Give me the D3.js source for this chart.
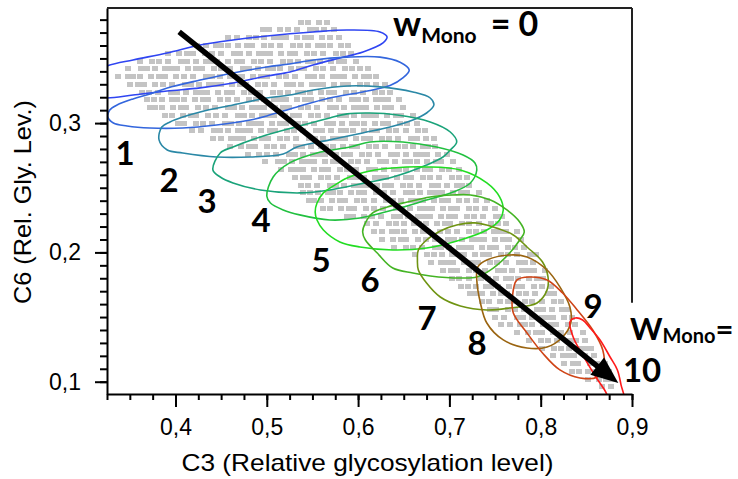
<!DOCTYPE html>
<html>
<head>
<meta charset="utf-8">
<script src="https://cdn.jsdelivr.net/npm/d3@7"></script>
<style>
  body { margin: 0; background: #fff; }
  text { font-family: "Liberation Sans", Arial, sans-serif; }
  .num { font-family: Lato, "Open Sans", sans-serif; font-weight: 700; }
</style>
</head>
<body>
<svg id="chart" width="738" height="479"></svg>
<script>
// axis setup
const xDomain = [0.325, 0.9];
const yDomain = [0.0905, 0.389];
const xMajor = [0.4, 0.5, 0.6, 0.7, 0.8, 0.9];
const yMajor = [0.1, 0.2, 0.3];

// gray cloud: one row per C6 value, C3 values (x1000) read along the row
const cloudY = [0.378, 0.372, 0.366, 0.360, 0.354, 0.348, 0.342, 0.336, 0.330, 0.324, 0.318, 0.312,
  0.306, 0.300, 0.294, 0.288, 0.282, 0.276, 0.270, 0.264, 0.258, 0.252, 0.246, 0.240, 0.234, 0.228,
  0.222, 0.216, 0.210, 0.204, 0.198, 0.192, 0.186, 0.180, 0.174, 0.168, 0.162, 0.156, 0.150, 0.144,
  0.138, 0.132, 0.126, 0.120, 0.114, 0.108, 0.102, 0.096];
const cloudX = [
  "538 545 557 566",
  "496 502 515 523 533 547 554 563 574",
  "457 467 481 488 497 508 514 521 533 542 548 561 569 579",
  "424 433 444 450 457 469 478 484 497 505 515 529 536 545 556 562 569 581 589",
  "392 404 413 419 432 440 450 464 471 480 491 497 504 516 525 531 544 552 562 576 583 592",
  "361 374 382 392 406 413 422 433 439 446 458 467 473 486 494 504 518 525 534 545 551 558 570 579 585 598",
  "348 362 369 378 389 395 402 414 423 429 442 450 460 474 481 490 501 507 514 526 535 541 554 562 572 586 593 602 611",
  "337 348 354 361 373 382 388 401 409 419 433 440 449 460 466 473 485 494 500 513 521 531 545 552 561 572 578 585 597 606 612 620",
  "350 359 365 378 386 396 410 417 426 437 443 450 462 471 477 490 498 508 522 529 538 549 555 562 574 583 589 602 610 620 629",
  "363 371 381 395 402 411 422 428 435 447 456 462 475 483 493 507 514 523 534 540 547 559 568 574 587 595 605 619 626 635",
  "369 376 385 396 402 409 421 430 436 449 457 467 481 488 497 508 514 521 533 542 548 561 569 579 593 600 609 620 626 633 645",
  "372 378 385 397 406 412 425 433 443 457 464 473 484 490 497 509 518 524 537 545 555 569 576 585 596 602 609 621 630 636 649",
  "389 396 408 417 423 436 444 454 468 475 484 495 501 508 520 529 535 548 556 566 580 587 596 607 613 620 632 641 647 660",
  "403 409 422 430 440 454 461 470 481 487 494 506 515 521 534 542 552 566 573 582 593 599 606 618 627 633 646 654 664",
  "418 428 442 449 458 469 475 482 494 503 509 522 530 540 554 561 570 581 587 594 606 615 621 634 642 652 666 673",
  "441 450 461 467 474 486 495 501 514 522 532 546 553 562 573 579 586 598 607 613 626 634 644 658 665 674 683",
  "460 472 481 487 500 508 518 532 539 548 559 565 572 584 593 599 612 620 630 644 651 660 671 677 684",
  "479 492 500 510 524 531 540 551 557 564 576 585 591 604 612 622 636 643 652 663 669 676 688 697",
  "498 512 519 528 539 545 552 564 573 579 592 600 610 624 631 640 651 657 664 676 685 691 704",
  "516 527 533 540 552 561 567 580 588 598 612 619 628 639 645 652 664 673 679 692 700 710",
  "531 540 546 559 567 577 591 598 607 618 624 631 643 652 658 671 679 689 703 710 719",
  "537 545 555 569 576 585 596 602 609 621 630 636 649 657 667 681 688 697 708 714 721",
  "540 547 556 567 573 580 592 601 607 620 628 638 652 659 668 679 685 692 704 713 719 732",
  "546 552 559 571 580 586 599 607 617 631 638 647 658 664 671 683 692 698 711 719 729 741",
  "562 569 581 590 596 609 617 627 641 648 657 668 674 681 693 702 708 721 729 739 750",
  "588 594 607 615 625 639 646 655 666 672 679 691 700 706 719 727 737 751 758",
  "610 620 634 641 650 661 667 674 686 695 701 714 722 732 746 753 762",
  "617 626 637 643 650 662 671 677 690 698 708 722 729 738 749 755 762 774",
  "626 638 647 653 666 674 684 698 705 714 725 731 738 750 759 765 778",
  "639 652 660 670 684 691 700 711 717 724 736 745 751 764 772 782",
  "662 676 683 692 703 709 716 728 737 743 756 764 774 788 795",
  "680 691 697 704 716 725 731 744 752 762 776 783 792",
  "693 702 708 721 729 739 753 760 769 780 786 793 805",
  "703 711 721 735 742 751 762 768 775 787 796 802",
  "713 720 729 740 746 753 765 774 780 793 801 811",
  "723 729 736 748 757 763 776 784 794 808 815",
  "736 743 755 764 770 783 791 801 815 822",
  "745 751 764 772 782 796 803 812 823 829",
  "750 760 774 781 790 801 807 814 826 834",
  "757 766 777 783 790 802 811 817 830 838",
  "774 786 795 801 814 822 832 846",
  "787 800 808 818 832 839 848",
  "801 815 822 831 842 848 855",
  "813 824 830 837 849 858",
  "826 835 841 854 862 870",
  "834 842 852 859 868 875",
  "852 864 871 878",
  "867 877"
];

// density contours, wMono = 0 .. 10
const contourColors = ["#2f45f2", "#3366dd", "#2a88a6", "#1aa37a", "#22c040", "#22dd22",
  "#44b424", "#6f9412", "#9a6410", "#cf4416", "#ff1a1a"];
const contours = [
  [[.2845,.3318],[.325,.3442],[.3535,.3488],[.3907,.3542],[.4269,.3604],[.463,.3643],[.5002,.3674],[.5506,.3705],[.5879,.372],[.624,.3705],[.6317,.3666],[.6273,.362],[.6054,.355],[.5802,.3504],[.5506,.3449],[.5254,.3395],[.5002,.3364],[.463,.331],[.4269,.3272],[.3907,.3248],[.3535,.3217],[.325,.3194],[.2954,.321]],
  [[.326,.3047],[.328,.3101],[.336,.314],[.3535,.3187],[.372,.3225],[.391,.3272],[.427,.3333],[.463,.3388],[.500,.3434],[.525,.3457],[.551,.3488],[.588,.351],[.624,.351],[.646,.347],[.656,.341],[.649,.3349],[.635,.329],[.605,.3241],[.569,.3194],[.533,.3125],[.500,.3055],[.482,.3024],[.445,.2985],[.408,.2962],[.372,.2962],[.347,.2978],[.332,.3001]],
  [[.382,.287],[.385,.297],[.394,.3009],[.408,.3047],[.427,.3086],[.463,.314],[.500,.3194],[.525,.3217],[.551,.3256],[.588,.3287],[.624,.328],[.660,.3241],[.679,.3194],[.683,.314],[.675,.3078],[.660,.3024],[.635,.297],[.605,.2924],[.569,.287],[.533,.2815],[.518,.2761],[.482,.2738],[.445,.2738],[.408,.2769],[.391,.2792]],
  [[.441,.2637],[.449,.2769],[.463,.2815],[.493,.2893],[.536,.2978],[.569,.304],[.588,.3071],[.613,.3078],[.643,.3063],[.679,.3009],[.701,.2931],[.708,.2854],[.701,.2792],[.693,.2738],[.675,.2676],[.638,.2583],[.602,.2529],[.569,.2483],[.536,.246],[.493,.2483],[.463,.2537],[.449,.2583]],
  [[.500,.2436],[.507,.2583],[.525,.2692],[.555,.2769],[.591,.2815],[.613,.2854],[.649,.2854],[.686,.2815],[.715,.2753],[.728,.2692],[.730,.2637],[.723,.2537],[.704,.2467],[.675,.2405],[.638,.2328],[.602,.2266],[.569,.2251],[.536,.229],[.518,.2328],[.504,.2382]],
  [[.553,.2313],[.555,.2382],[.562,.246],[.573,.2514],[.588,.2576],[.613,.263],[.638,.2653],[.675,.2661],[.712,.2637],[.741,.2537],[.755,.2429],[.759,.2328],[.755,.2251],[.741,.2173],[.712,.2096],[.675,.2034],[.638,.2019],[.602,.2042],[.580,.2081],[.562,.2173],[.555,.2251]],
  [[.605,.2158],[.608,.2228],[.616,.2305],[.632,.2351],[.654,.239],[.679,.2429],[.704,.2444],[.723,.2444],[.745,.2405],[.763,.2328],[.777,.2235],[.782,.2158],[.777,.2096],[.766,.1995],[.748,.1879],[.730,.181],[.712,.1802],[.679,.1818],[.660,.1841],[.638,.1879],[.621,.1995],[.608,.2096]],
  [[.665,.1941],[.666,.2019],[.675,.2096],[.690,.2166],[.708,.2212],[.728,.2228],[.748,.2197],[.770,.2135],[.785,.2042],[.802,.1926],[.808,.181],[.807,.171],[.796,.1609],[.766,.157],[.741,.1555],[.712,.1586],[.690,.1655],[.675,.1763],[.666,.1864]],
  [[.730,.1787],[.731,.1887],[.741,.1941],[.766,.198],[.785,.1965],[.807,.1864],[.821,.1733],[.832,.1578],[.833,.1454],[.824,.1346],[.807,.1268],[.785,.1261],[.759,.1323],[.741,.1454],[.734,.1609]],
  [[.769,.1655],[.774,.1787],[.788,.181],[.807,.1787],[.824,.1686],[.840,.1555],[.857,.14],[.868,.1245],[.869,.1114],[.862,.1036],[.843,.1029],[.821,.1091],[.802,.1222],[.785,.1377],[.770,.1531]],
  [[.832,.1462],[.838,.1493],[.846,.1477],[.854,.1416],[.865,.1323],[.876,.1191],[.884,.1091],[.888,.0975],[.891,.086],[.878,.0843],[.870,.0936],[.859,.1052],[.846,.1207],[.836,.1338]]
];

// contour number labels
const levelLabels = ["1", "2", "3", "4", "5", "6", "7", "8", "9", "10"];
const levelLabelX = [.3447, .3929, .4345, .4937, .5594, .6131, .6755, .7303, .8573, .9110];
const levelLabelY = [.2676, .2467, .2305, .2158, .1849, .1694, .140, .1207, .1493, .0998];

// arrow along increasing wMono
const arrowFrom = [0.404, 0.3705];
const arrowTo = [0.885, 0.099];

const margin = {top: 8, right: 106, bottom: 85, left: 107};
const width = 738, height = 479;

const x = d3.scaleLinear().domain(xDomain).range([margin.left, width - margin.right]);
const y = d3.scaleLinear().domain(yDomain).range([height - margin.bottom, margin.top]);

const svg = d3.select("#chart");

svg.append("defs").append("clipPath")
    .attr("id", "plot")
  .append("rect")
    .attr("x", x.range()[0])
    .attr("y", y.range()[1])
    .attr("width", x.range()[1] - x.range()[0])
    .attr("height", y.range()[0] - y.range()[1]);

// points
let pts = [];
cloudY.forEach((cy, i) => {
  cloudX[i].split(" ").forEach(v => pts.push([+v / 1000, cy]));
});

const plot = svg.append("g").attr("clip-path", "url(#plot)");

plot.append("g")
    .attr("shape-rendering", "crispEdges")
  .selectAll("rect")
  .data(pts)
  .join("rect")
    .attr("x", d => Math.round(x(d[0]) - 3))
    .attr("y", d => Math.round(y(d[1]) - 2.5))
    .attr("width", 6)
    .attr("height", 5)
    .attr("fill", "#c4c4c4");

const line = d3.line()
  .x(d => x(d[0]))
  .y(d => y(d[1]))
  .curve(d3.curveCatmullRomClosed.alpha(0.5));

plot.append("g")
  .selectAll("path")
  .data(contours)
  .join("path")
    .attr("d", line)
    .attr("fill", "none")
    .attr("stroke", (d, i) => contourColors[i])
    .attr("stroke-width", 1.6);

// arrow
const ax0 = x(arrowFrom[0]), ay0 = y(arrowFrom[1]);
const ax1 = x(arrowTo[0]), ay1 = y(arrowTo[1]);
const len = Math.hypot(ax1 - ax0, ay1 - ay0);
const ux = (ax1 - ax0) / len, uy = (ay1 - ay0) / len;
const headLen = 27, headHalf = 11;
const bx = ax1 - ux * headLen, by = ay1 - uy * headLen;

svg.append("line")
    .attr("x1", ax0).attr("y1", ay0)
    .attr("x2", bx + ux * 2).attr("y2", by + uy * 2)
    .attr("stroke", "#000")
    .attr("stroke-width", 5.5);

svg.append("path")
    .attr("d", `M${ax1},${ay1}L${bx - uy * headHalf},${by + ux * headHalf}L${bx + uy * headHalf},${by - ux * headHalf}Z`)
    .attr("fill", "#000");

// axes
const fmt = v => v.toFixed(1).replace(".", ",");

const xMinor = d3.range(0.325, 0.9001, 0.025);
const yMinor = d3.range(0.1, 0.3801, 0.01);

const xAxisG = svg.append("g")
    .attr("transform", `translate(0,${y.range()[0]})`);
xAxisG.append("g")
    .call(d3.axisBottom(x).tickValues(xMinor).tickSize(6).tickFormat("").tickSizeOuter(0))
    .call(g => g.select(".domain").remove());
xAxisG.append("g")
    .call(d3.axisBottom(x).tickValues(xMajor).tickSize(13).tickPadding(12).tickFormat(fmt).tickSizeOuter(0));

const yAxisG = svg.append("g")
    .attr("transform", `translate(${x.range()[0]},0)`);
yAxisG.append("g")
    .call(d3.axisLeft(y).tickValues(yMinor).tickSize(7).tickFormat("").tickSizeOuter(0))
    .call(g => g.select(".domain").remove());
yAxisG.append("g")
    .call(d3.axisLeft(y).tickValues(yMajor).tickSize(12).tickPadding(14).tickFormat(fmt).tickSizeOuter(0));

svg.selectAll(".tick line").attr("stroke", "#000").attr("stroke-width", 2);
svg.selectAll(".domain").attr("stroke", "#000").attr("stroke-width", 2);
svg.selectAll(".tick text")
    .attr("font-size", 23)
    .attr("fill", "#000")
    .style("font-family", '"Liberation Sans", Arial, sans-serif');

// frame: top and right (right side interrupted by the label)
svg.append("line")
    .attr("x1", x.range()[0]).attr("x2", x.range()[1])
    .attr("y1", y.range()[1]).attr("y2", y.range()[1])
    .attr("stroke", "#222").attr("stroke-width", 2);
svg.append("line")
    .attr("x1", x.range()[1]).attr("x2", x.range()[1])
    .attr("y1", y.range()[1]).attr("y2", y(0.161))
    .attr("stroke", "#222").attr("stroke-width", 2);

// axis titles
svg.append("text")
    .attr("x", (x.range()[0] + x.range()[1]) / 2 - 2)
    .attr("y", 471)
    .attr("text-anchor", "middle")
    .attr("font-size", 24)
    .attr("textLength", 372)
    .attr("lengthAdjust", "spacingAndGlyphs")
    .text("C3 (Relative glycosylation level)");

svg.append("text")
    .attr("transform", `translate(31,${(y.range()[0] + y.range()[1]) / 2 + 1}) rotate(-90)`)
    .attr("text-anchor", "middle")
    .attr("font-size", 24)
    .attr("textLength", 204)
    .attr("lengthAdjust", "spacingAndGlyphs")
    .text("C6 (Rel. Gly. Lev.)");

// contour numbers
svg.append("g")
  .selectAll("text")
  .data(levelLabels)
  .join("text")
    .attr("class", "num")
    .attr("x", (d, i) => x(levelLabelX[i]))
    .attr("y", (d, i) => y(levelLabelY[i]))
    .attr("text-anchor", "middle")
    .attr("font-size", 33)
    .text(d => d);

// wMono annotations
const topLabel = svg.append("text")
    .attr("class", "num")
    .attr("x", x(0.6383))
    .attr("y", y(0.3674));
topLabel.append("tspan").attr("font-size", 35).text("w");
topLabel.append("tspan").attr("font-size", 21).attr("dy", 7).text("Mono");
topLabel.append("tspan").attr("font-size", 34).attr("dy", -7).attr("dx", 14).text("= 0");

const sideLabel = svg.append("text")
    .attr("class", "num")
    .attr("x", x(0.8978))
    .attr("y", y(0.1323));
sideLabel.append("tspan").attr("font-size", 31).text("W");
sideLabel.append("tspan").attr("font-size", 20).attr("dy", 3).text("Mono");
sideLabel.append("tspan").attr("font-size", 31).attr("dy", -3).text("=");
</script>
</body>
</html>
